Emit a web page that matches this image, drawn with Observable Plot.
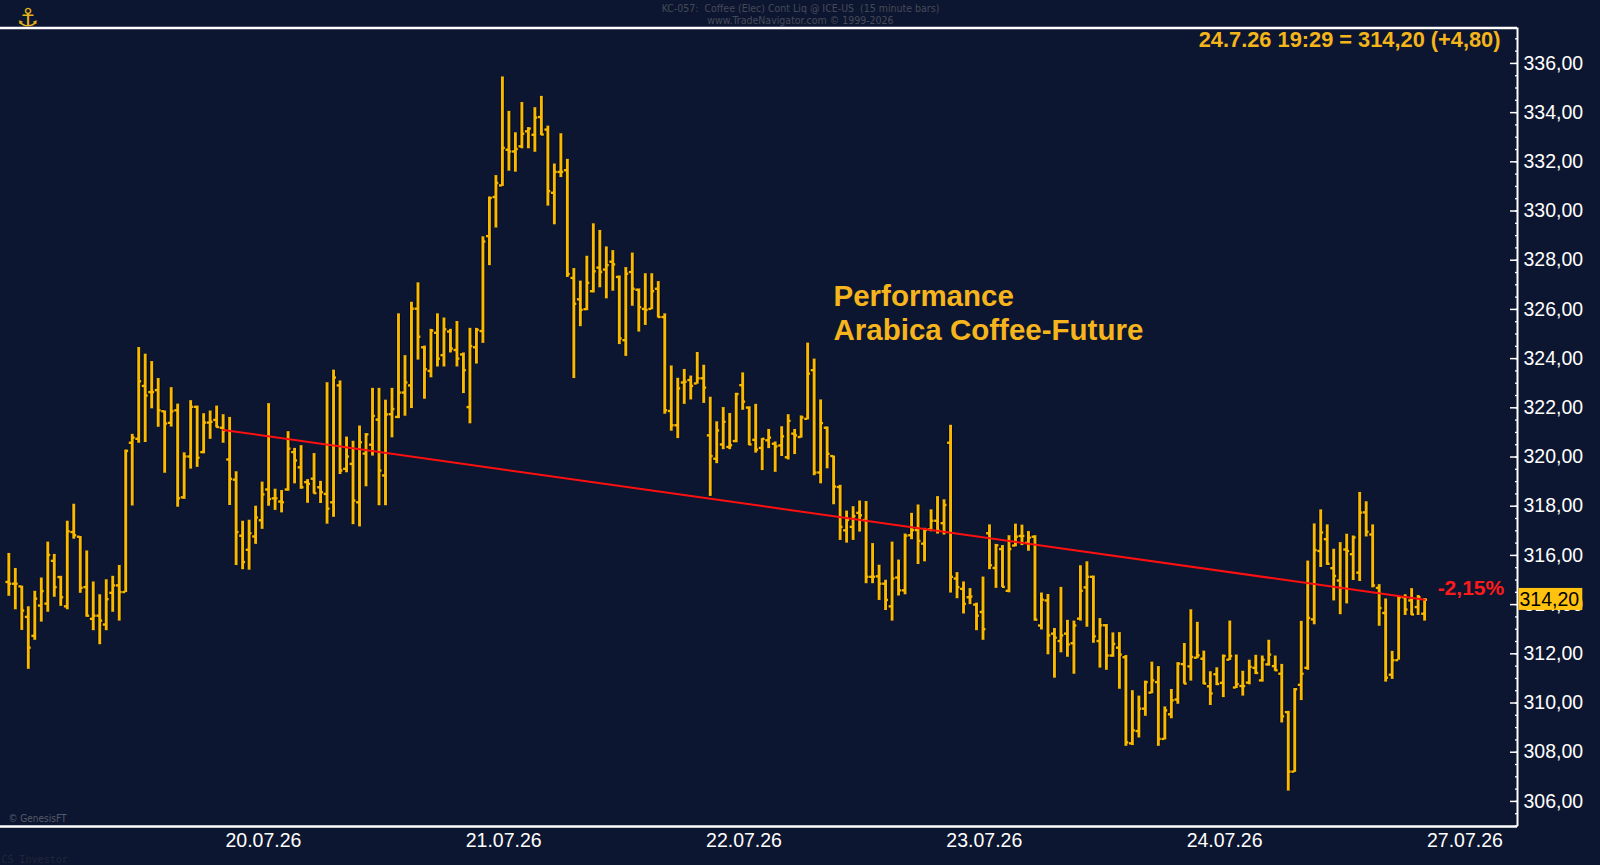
<!DOCTYPE html>
<html><head><meta charset="utf-8">
<script src="https://cdn.jsdelivr.net/npm/d3@7"></script>
<script src="https://cdn.jsdelivr.net/npm/@observablehq/plot@0.6"></script>
<style>
html,body{margin:0;padding:0;background:#0d1630;}
#chart{width:1600px;height:865px;overflow:hidden;}
#chart svg{display:block;}
</style></head><body><div id="chart"></div>
<script>
// ---- data: 15-minute OHLC bars (bar index 0..218) ----
const opens = [314.92,314.85,314.74,313.50,312.73,313.96,314.04,315.78,315.12,313.93,
316.95,316.76,314.71,313.42,313.55,313.19,314.48,314.78,314.51,320.58,
320.74,322.89,322.64,322.72,321.86,321.39,321.90,318.36,320.02,322.04,
320.20,321.40,321.51,321.19,319.90,319.08,316.80,316.23,316.77,317.43,
318.68,318.32,318.19,318.68,320.20,319.58,318.98,319.12,318.77,318.50,
318.16,322.91,319.52,319.72,318.16,320.14,320.50,321.52,319.25,321.74,
321.63,322.62,322.91,326.03,324.46,323.50,325.05,324.14,325.10,324.35,
324.17,322.03,324.46,325.12,328.98,330.57,331.04,332.49,332.42,332.63,
333.24,333.10,333.82,333.31,330.74,331.59,331.66,327.28,326.41,326.01,
326.74,327.70,327.62,327.94,327.32,324.75,327.52,326.80,326.02,326.02,
326.84,325.69,321.87,321.29,323.03,323.13,322.99,323.20,320.88,319.93,
320.51,320.41,320.65,322.92,322.01,320.70,320.37,320.68,320.54,320.47,
319.99,320.95,320.81,321.55,323.53,319.37,321.19,320.04,318.78,317.02,
317.16,317.73,317.44,315.13,315.15,314.85,313.93,315.10,314.58,316.82,
317.03,316.48,317.06,317.41,317.31,320.58,315.06,314.64,314.30,314.00,
313.70,316.90,315.49,316.26,314.56,316.40,316.79,316.51,316.76,313.15,
314.17,312.82,312.52,312.82,312.43,313.43,314.70,315.13,312.52,313.16,
311.93,312.25,311.86,308.36,308.86,309.77,310.42,310.85,308.54,309.54,
310.14,311.58,311.49,311.84,311.80,310.68,311.17,310.82,311.76,310.63,
310.69,310.83,311.43,310.92,311.57,311.50,311.19,309.63,307.21,310.74,
311.43,313.40,316.18,316.66,315.48,314.98,316.24,316.05,315.30,317.75,
316.85,314.68,313.66,311.15,311.74,314.30,314.17,313.90,313.63];
const highs = [316.08,315.47,314.75,313.91,314.54,315.08,316.54,316.04,315.15,317.39,
318.08,316.77,316.18,314.92,314.40,315.01,315.15,315.59,320.28,320.92,
324.45,324.18,323.88,323.19,321.87,322.82,322.15,320.17,322.29,322.07,
321.76,321.87,322.07,321.72,321.61,319.40,317.39,317.43,318.00,318.98,
322.17,318.69,318.64,321.03,320.35,320.46,319.08,320.14,319.01,323.02,
323.53,323.09,320.81,320.64,321.26,320.95,322.79,322.79,322.31,322.79,
325.82,324.12,326.29,327.08,324.51,325.19,325.82,325.65,325.19,325.51,
324.23,325.23,325.23,328.95,330.57,331.44,335.45,334.05,333.18,334.41,
333.39,334.20,334.66,333.45,331.91,333.14,332.10,327.66,327.15,328.16,
329.48,329.21,328.54,328.39,327.36,327.70,328.29,326.83,327.45,327.45,
327.13,325.82,323.70,323.20,323.56,323.29,324.25,323.73,322.43,321.43,
322.01,321.77,322.59,323.42,322.04,322.14,320.74,321.12,320.61,321.23,
321.72,321.12,321.67,324.63,323.98,322.32,321.22,320.04,318.85,317.80,
317.98,318.21,318.19,316.48,315.60,314.99,316.54,315.81,316.87,317.71,
318.05,317.10,317.85,318.39,318.26,321.29,315.30,314.92,314.65,314.06,
315.12,317.24,316.45,316.40,316.80,317.27,317.23,316.97,316.80,314.47,
314.41,313.03,314.70,313.36,313.33,315.58,315.74,315.16,313.43,313.19,
312.85,312.86,311.93,310.50,310.28,310.89,311.66,311.48,309.84,310.55,
311.64,312.42,313.79,313.28,312.11,311.27,311.43,311.95,313.33,311.95,
311.29,311.74,311.94,311.91,312.55,311.91,311.57,309.66,310.59,313.32,
315.77,317.28,317.85,317.24,316.25,316.52,316.86,316.79,318.56,318.18,
317.24,314.81,314.23,312.10,314.34,314.40,314.65,314.37,314.24];
const lows = [314.34,313.79,312.95,311.37,312.55,313.29,313.69,314.30,313.93,313.79,
316.66,314.46,313.49,312.94,312.37,312.94,313.69,313.33,314.49,318.01,
320.56,320.59,321.96,321.21,319.34,321.22,317.96,318.28,319.51,319.58,
320.13,320.72,321.19,320.56,318.03,315.59,315.42,315.40,316.45,317.06,
318.00,317.83,317.73,318.61,318.91,318.69,318.12,318.50,318.11,317.27,
317.55,319.29,319.36,317.25,317.16,318.79,320.04,318.02,318.02,320.78,
321.56,321.66,321.97,323.94,322.35,323.22,323.66,323.66,324.23,323.66,
322.58,321.35,323.78,324.62,327.78,329.31,331.00,331.62,331.58,332.53,
332.53,332.39,333.07,330.20,329.44,331.36,327.30,323.19,325.30,325.95,
326.67,326.88,326.43,326.74,324.57,324.09,326.13,325.08,325.35,325.99,
325.66,321.74,321.05,320.75,322.14,322.32,322.96,322.18,318.40,319.73,
320.30,320.30,320.58,321.90,320.47,320.16,319.45,320.34,319.38,320.02,
319.88,320.10,320.77,321.51,319.24,318.91,319.52,318.06,316.61,316.50,
316.61,316.95,314.85,314.85,314.17,313.76,313.33,314.35,314.40,316.64,
315.63,315.74,316.96,316.87,316.83,314.47,314.24,313.62,314.00,312.94,
312.55,315.42,314.66,314.70,314.48,316.35,316.40,316.17,313.33,312.97,
311.96,311.01,312.04,311.86,311.17,313.33,313.08,312.43,311.42,311.33,
311.86,310.56,308.24,308.27,308.58,309.46,310.38,308.24,308.50,309.36,
309.95,310.77,310.89,311.80,310.75,309.90,310.71,310.22,311.73,310.59,
310.28,310.74,311.16,310.85,311.50,311.29,309.19,306.42,307.18,310.10,
311.33,313.18,315.51,315.60,314.15,313.59,314.03,314.98,314.94,316.75,
314.68,313.12,310.85,310.96,311.74,313.56,313.56,313.56,313.33];
const closes = [314.85,314.85,313.76,312.25,314.24,314.55,316.02,314.71,314.30,316.98,
316.82,314.68,313.55,313.55,313.35,314.22,314.78,314.51,320.25,320.79,
323.08,322.50,322.64,321.90,321.36,321.86,318.32,320.02,322.04,319.97,
321.40,321.43,321.22,321.08,319.11,316.95,315.73,316.90,317.54,318.48,
318.29,318.32,318.16,320.34,319.86,318.77,318.91,318.53,318.57,317.90,
323.23,319.45,320.02,318.23,320.60,320.92,321.67,319.45,321.73,321.95,
322.62,323.03,326.03,324.89,323.57,325.14,324.00,325.19,324.41,324.00,
323.53,324.51,325.17,328.76,330.53,331.14,332.57,332.42,332.52,333.14,
333.35,333.80,333.11,330.81,331.59,331.59,327.44,326.23,325.98,327.08,
327.55,327.52,327.80,327.83,324.82,327.45,326.84,326.09,325.98,326.74,
325.69,321.90,321.29,322.79,323.06,322.89,323.20,322.82,320.04,321.08,
321.43,320.48,322.56,322.25,320.51,320.30,320.74,320.79,320.43,320.84,
321.47,320.88,321.61,323.39,319.37,321.38,320.13,318.80,317.16,317.44,
317.60,317.63,315.13,315.13,314.85,314.19,315.06,314.58,316.80,317.03,
316.59,317.03,317.41,317.00,318.05,315.13,314.71,314.03,314.33,313.55,
313.00,315.60,316.41,314.72,316.26,316.76,316.79,316.72,313.39,314.20,
312.75,312.65,312.75,312.38,313.15,314.56,315.13,312.71,313.16,311.93,
312.40,311.97,308.40,308.89,309.77,310.85,310.92,308.54,309.70,310.11,
311.60,310.79,311.87,311.94,310.79,310.39,310.77,311.91,311.91,310.77,
310.69,311.47,311.22,311.76,311.97,311.33,309.46,307.21,310.56,311.19,
313.46,316.22,316.93,315.66,315.16,314.68,316.18,316.73,317.74,316.96,
314.78,313.86,311.03,311.74,314.30,313.80,313.60,314.30,314.20];

// axis ticks and labels
const priceTicks = [306,308,310,312,314,316,318,320,322,324,326,328,330,332,334,336];
const minorTicks = d3.range(305, 337.01, 0.5);
const dayLabels = ["20.07.26","21.07.26","22.07.26","23.07.26","24.07.26","27.07.26"];
const dayLabelBars = [39.2, 76.2, 113.2, 150.2, 187.2, 224.2];

// performance trend line (bar index, price)
const trendBars = [33, 218];
const trendValues = [321.10, 314.20];
const perfLabel = "-2,15%";
const lastPrice = 314.20;
const lastQuote = "24.7.26 19:29 = 314,20 (+4,80)";
const titleLines = ["Performance", "Arabica Coffee-Future"];
const headerLines = ["KC-057:  Coffee (Elec) Cont Liq @ ICE-US  (15 minute bars)", "www.TradeNavigator.com \u00a9 1999-2026"];

// ---- build ----
const bars = opens.map((o, i) => ({i, open: o, high: highs[i], low: lows[i], close: closes[i]}));
const trend = trendBars.map((b, k) => ({i: b, v: trendValues[k]}));
const days = dayLabels.map((t, k) => ({t, i: dayLabelBars[k]}));
const fmt = v => v.toFixed(2).replace(".", ",");

const bg = "#0d1630", gold = "#f9b900", edge = "#050a18";
const xDomain = [-1.28, 232.3];
const yDomain = [304.98, 337.44];
const font = "'Liberation Sans', Arial, sans-serif";
const narrow = "'Liberation Sans Narrow','DejaVu Sans Condensed',sans-serif";

const chart = Plot.plot({
  width: 1600, height: 865,
  marginLeft: 0, marginTop: 27.5, marginRight: 83, marginBottom: 39,
  style: {background: bg, fontFamily: font, overflow: "visible"},
  x: {domain: xDomain, axis: null},
  y: {domain: yDomain, axis: null},
  marks: [
    // frame lines
    Plot.ruleY([yDomain[1]], {stroke: "#ffffff", strokeWidth: 2.5}),
    Plot.ruleY([yDomain[0]], {stroke: "#ffffff", strokeWidth: 2.5}),
    Plot.ruleX([xDomain[1]], {stroke: "#ffffff", strokeWidth: 2}),
    // y axis (right)
    Plot.axisY(minorTicks, {anchor: "right", tickSize: -3, tickFormat: () => "", stroke: "#ffffff", strokeWidth: 1.3}),
    Plot.axisY(priceTicks, {anchor: "right", tickSize: -8, tickPadding: 14, tickFormat: fmt,
      stroke: "#ffffff", strokeWidth: 1.5, fill: "#ffffff", fontSize: 19.5}),
    // day labels
    Plot.text(days, {x: "i", frameAnchor: "bottom", lineAnchor: "middle", dy: 14, text: "t", fill: "#ffffff", fontSize: 19.5}),
    // OHLC outline
    Plot.ruleX(bars, {x: "i", y1: "low", y2: "high", stroke: edge, strokeWidth: 5, insetTop: -1, insetBottom: -1}),
    Plot.ruleY(bars, {y: "open", x1: d => d.i - 0.45, x2: "i", stroke: edge, strokeWidth: 4.4}),
    Plot.ruleY(bars, {y: "close", x1: "i", x2: d => d.i + 0.45, stroke: edge, strokeWidth: 4.4}),
    // OHLC bars
    Plot.ruleX(bars, {x: "i", y1: "low", y2: "high", stroke: gold, strokeWidth: 2.9}),
    Plot.ruleY(bars, {y: "open", x1: d => d.i - 0.45, x2: "i", stroke: gold, strokeWidth: 2.4}),
    Plot.ruleY(bars, {y: "close", x1: "i", x2: d => d.i + 0.45, stroke: gold, strokeWidth: 2.4}),
    // trend line
    Plot.line(trend, {x: "i", y: "v", stroke: "#ff1010", strokeWidth: 2}),
    Plot.text([trend[1]], {x: "i", y: "v", text: () => perfLabel, dx: 13, dy: -11, textAnchor: "start",
      fill: "#ff1a1a", fontSize: 21, fontWeight: "bold"}),
    // last price label
    Plot.text([lastPrice], {y: d => d, frameAnchor: "right", dx: 2, textAnchor: "start", text: d => fmt(d),
      fill: "#000000", fontSize: 19.5}),
    // quote header
    Plot.text([lastQuote], {frameAnchor: "top-right", lineAnchor: "middle", dx: -17, dy: 12.5, textAnchor: "end",
      fill: "#f4b51a", fontSize: 21.8, fontWeight: "bold"}),
    // annotation
    Plot.text([titleLines.join("\n")], {frameAnchor: "top-left", dx: 833, dy: 254, textAnchor: "start",
      lineHeight: 34 / 29.5, fill: "#f6b51c", fontSize: 29.5, fontWeight: "bold"}),
    // top header lines
    Plot.text([headerLines[0]], {frameAnchor: "top-left", lineAnchor: "middle", dx: 800, dy: -19.3, textAnchor: "middle",
      fill: "#454a58", fontSize: 10.5, fontFamily: narrow}),
    Plot.text([headerLines[1]], {frameAnchor: "top-left", lineAnchor: "middle", dx: 800, dy: -7, textAnchor: "middle",
      fill: "#454a58", fontSize: 10.5, fontFamily: narrow}),
    // logo & credits
    Plot.text(["\u2693"], {frameAnchor: "top-left", lineAnchor: "middle", dx: 16, dy: -10.5, fill: "#e7b21a", fontSize: 25, fontFamily: "'DejaVu Sans',sans-serif"}),
    Plot.text(["\u00a9 GenesisFT"], {frameAnchor: "bottom-left", dx: 8, dy: -5, textAnchor: "start",
      fill: "#555b6a", fontSize: 10, fontFamily: narrow}),
    Plot.text(["CS Investor"], {frameAnchor: "bottom-left", dx: 1, dy: 36, textAnchor: "start",
      fill: "#20283a", fontSize: 10, fontFamily: "'DejaVu Sans Mono','Liberation Mono',monospace"})
  ]
});
document.getElementById("chart").appendChild(chart);

// yellow box behind the last price label
d3.select(chart).selectAll("text").each(function () {
  if (this.textContent === fmt(lastPrice) && this.getAttribute("fill") !== "#ffffff") {
    const b = this.getBBox();
    const ctm = this.getAttribute("transform");
    const r = document.createElementNS("http://www.w3.org/2000/svg", "rect");
    r.setAttribute("x", b.x - 1);
    r.setAttribute("y", b.y + b.height / 2 - 11);
    r.setAttribute("width", b.width + 4);
    r.setAttribute("height", 22);
    r.setAttribute("fill", "#ffc20e");
    if (ctm) r.setAttribute("transform", ctm);
    this.parentNode.insertBefore(r, this);
  }
});
</script>
</body></html>
